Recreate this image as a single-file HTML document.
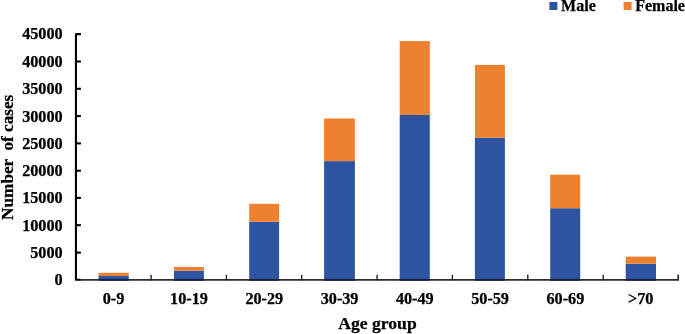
<!DOCTYPE html>
<html>
<head>
<meta charset="utf-8">
<style>
html,body{margin:0;padding:0;background:#fff;}
body{width:685px;height:334px;overflow:hidden;}
svg{display:block;will-change:transform;}
text{font-family:"Liberation Serif",serif;font-weight:bold;fill:#000;stroke:#000;stroke-width:0.25px;}
.t{font-size:16.2px;}
.ttl{font-size:17.6px;}
</style>
</head>
<body>
<svg width="685" height="334" viewBox="0 0 685 334">
<rect x="0" y="0" width="685" height="334" fill="#fff"/>
<!-- bars -->
<g fill="#2e54a1">
<rect x="98.5" y="276.0" width="30.3" height="3.6"/>
<rect x="173.9" y="270.7" width="30.0" height="8.9"/>
<rect x="249.2" y="221.8" width="29.9" height="57.8"/>
<rect x="324.1" y="161.1" width="30.8" height="118.5"/>
<rect x="399.7" y="114.9" width="30.1" height="164.7"/>
<rect x="474.9" y="137.7" width="30.0" height="141.9"/>
<rect x="550.2" y="208.2" width="30.0" height="71.4"/>
<rect x="625.7" y="263.7" width="30.3" height="15.9"/>
</g>
<g fill="#ee8130">
<rect x="98.5" y="272.8" width="30.3" height="3.2"/>
<rect x="173.9" y="267.0" width="30.0" height="3.7"/>
<rect x="249.2" y="203.8" width="29.9" height="18"/>
<rect x="324.1" y="118.5" width="30.8" height="42.6"/>
<rect x="399.7" y="41.1" width="30.1" height="73.8"/>
<rect x="474.9" y="64.9" width="30.0" height="72.8"/>
<rect x="550.2" y="174.7" width="30.0" height="33.5"/>
<rect x="625.7" y="256.6" width="30.3" height="7.1"/>
</g>
<!-- axes -->
<g stroke="#1c1c1c" fill="none">
<polyline points="80.9,34.1 75.95,34.1 75.95,279.8 80.9,279.8" stroke-width="2.1" stroke="#000" stroke-linejoin="round"/>
<polyline points="80,279.9 678.2,279.9 678.2,274.7" stroke-width="1.7" stroke="#2e2e2e" stroke-linejoin="round"/>
<g stroke-width="2.1" stroke="#000">
<line x1="76" y1="61.5" x2="80.9" y2="61.5"/>
<line x1="76" y1="88.8" x2="80.9" y2="88.8"/>
<line x1="76" y1="116.1" x2="80.9" y2="116.1"/>
<line x1="76" y1="143.4" x2="80.9" y2="143.4"/>
<line x1="76" y1="170.7" x2="80.9" y2="170.7"/>
<line x1="76" y1="197.9" x2="80.9" y2="197.9"/>
<line x1="76" y1="225.2" x2="80.9" y2="225.2"/>
<line x1="76" y1="252.6" x2="80.9" y2="252.6"/>
</g>
<g stroke-width="1.4" stroke="#222">
<line x1="151.1" y1="274.7" x2="151.1" y2="280.4"/>
<line x1="226.4" y1="274.7" x2="226.4" y2="280.4"/>
<line x1="301.7" y1="274.7" x2="301.7" y2="280.4"/>
<line x1="377.1" y1="274.7" x2="377.1" y2="280.4"/>
<line x1="452.4" y1="274.7" x2="452.4" y2="280.4"/>
<line x1="527.8" y1="274.7" x2="527.8" y2="280.4"/>
<line x1="603.2" y1="274.7" x2="603.2" y2="280.4"/>
</g>
</g>
<g fill="#0e1c40">
<rect x="98.5" y="279.2" width="30.3" height="1.5"/>
<rect x="173.9" y="279.2" width="30.0" height="1.5"/>
<rect x="249.2" y="279.2" width="29.9" height="1.5"/>
<rect x="324.1" y="279.2" width="30.8" height="1.5"/>
<rect x="399.7" y="279.2" width="30.1" height="1.5"/>
<rect x="474.9" y="279.2" width="30.0" height="1.5"/>
<rect x="550.2" y="279.2" width="30.0" height="1.5"/>
<rect x="625.7" y="279.2" width="30.3" height="1.5"/>
</g>
<!-- y labels -->
<g class="t" text-anchor="end">
<text x="62.6" y="39.4">45000</text>
<text x="62.6" y="66.9">40000</text>
<text x="62.6" y="94.2">35000</text>
<text x="62.6" y="121.5">30000</text>
<text x="62.6" y="148.8">25000</text>
<text x="62.6" y="176.1">20000</text>
<text x="62.6" y="203.3">15000</text>
<text x="62.6" y="230.6">10000</text>
<text x="62.6" y="257.8">5000</text>
<text x="62.6" y="285.1">0</text>
</g>
<!-- x labels -->
<g class="t" text-anchor="middle">
<text x="113.5" y="303.9">0-9</text>
<text x="189.0" y="303.9">10-19</text>
<text x="264.3" y="303.9">20-29</text>
<text x="339.6" y="303.9">30-39</text>
<text x="414.8" y="303.9">40-49</text>
<text x="490.1" y="303.9">50-59</text>
<text x="565.4" y="303.9">60-69</text>
<text x="640.7" y="303.9">&gt;70</text>
</g>
<!-- titles -->
<text class="ttl" x="377.5" y="329.1" text-anchor="middle">Age group</text>
<text style="font-size:17.2px" transform="translate(13.2,157.3) rotate(-90) scale(1,1.03)" text-anchor="middle" xml:space="preserve">Number  of cases</text>
<!-- legend -->
<rect x="549.4" y="2" width="8" height="8" fill="#2e54a1"/>
<text x="561.1" y="10.7" style="font-size:16px">Male</text>
<rect x="623.6" y="2" width="8" height="8" fill="#ee8130"/>
<text x="635.2" y="10.7" style="font-size:16px">Female</text>
</svg>
</body>
</html>
